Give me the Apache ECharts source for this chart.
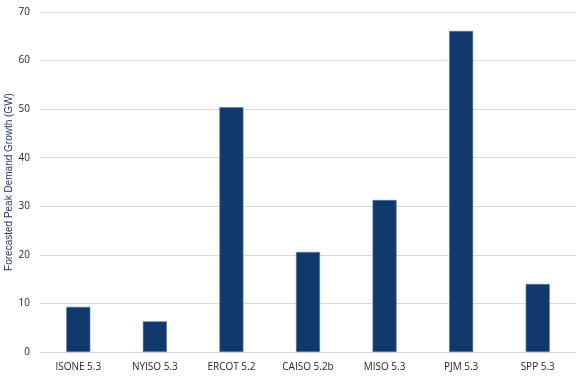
<!DOCTYPE html>
<html><head><meta charset="utf-8">
<script src="https://cdn.jsdelivr.net/npm/echarts@6/dist/echarts.min.js"></script>
<style>html,body{margin:0;padding:0;background:#fff}#c{width:576px;height:376px}</style>
</head><body><div id="c"></div>
<script>
const categories = ["ISONE 5.3","NYISO 5.3","ERCOT 5.2","CAISO 5.2b","MISO 5.3","PJM 5.3","SPP 5.3"];
const values = [9.3, 6.3, 50.4, 20.6, 31.3, 66.1, 14.0];
const yTicks = {min: 0, max: 70, interval: 10};
const yTitle = "Forecasted Peak Demand Growth (GW)";

const chart = echarts.init(document.getElementById('c'), null, {renderer:'canvas'});
chart.setOption({
  animation: false,
  grid: {left: 40, right: 0, top: 12, bottom: 24, containLabel: false, outerBoundsMode: 'none'},
  xAxis: {
    type: 'category', data: categories,
    axisLine: {show: false}, axisTick: {show: false},
    axisLabel: {color: '#262626', fontSize: 10, fontFamily: 'Open Sans', margin: 10}
  },
  yAxis: {
    type: 'value', min: yTicks.min, max: yTicks.max, interval: yTicks.interval,
    name: yTitle, nameLocation: 'middle', nameGap: 26, nameMoveOverlap: false,
    nameTextStyle: {color: '#1f3864', fontSize: 10, fontFamily: 'Liberation Sans'},
    axisLine: {show: false}, axisTick: {show: false},
    axisLabel: {color: '#262626', fontSize: 10, fontFamily: 'Open Sans', margin: 10},
    splitLine: {lineStyle: {color: '#d9d9d9', width: 1}}
  },
  series: [{
    type: 'bar', data: values, barWidth: 24,
    itemStyle: {color: '#10386a', borderColor: '#5a7aa0', borderWidth: 0.6}
  }]
});
</script></body></html>
